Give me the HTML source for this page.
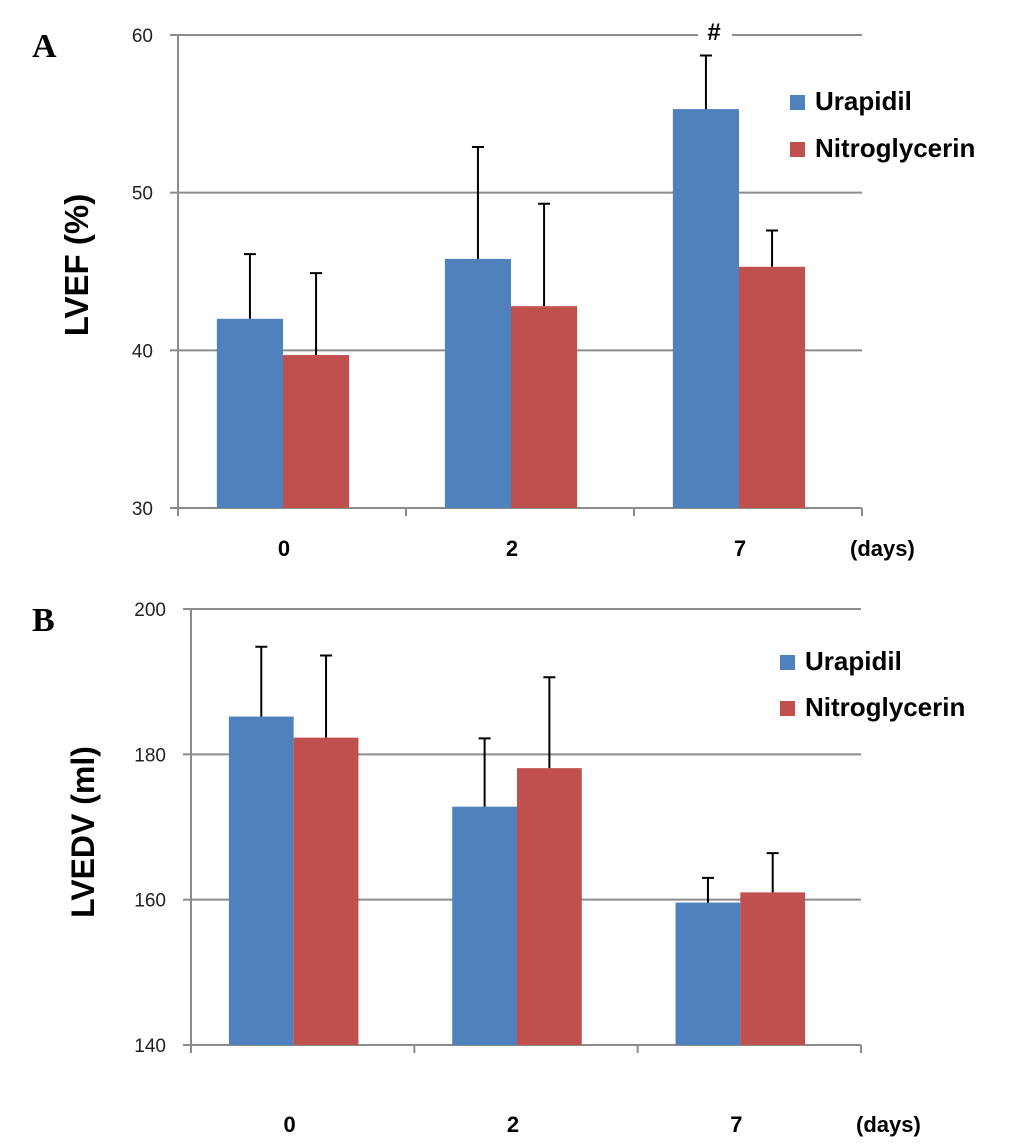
<!DOCTYPE html>
<html><head><meta charset="utf-8"><style>
html,body{margin:0;padding:0;background:#fff;width:1033px;height:1145px;overflow:hidden}
svg text{font-family:"Liberation Sans",Arial,sans-serif}
</style></head><body>
<svg id="chart" width="1033" height="1145" viewBox="0 0 1033 1145" xmlns="http://www.w3.org/2000/svg"></svg>
<script>
const categories = ["0", "2", "7"];
const seriesNames = ["Urapidil", "Nitroglycerin"];
const lvefUrapidil = [42.0, 45.8, 55.3];
const lvefUrapidilErr = [4.1, 7.1, 3.4];
const lvefNitro = [39.7, 42.8, 45.3];
const lvefNitroErr = [5.2, 6.5, 2.3];
const lvefTicks = [30, 40, 50, 60];
const lvedvUrapidil = [185.2, 172.8, 159.6];
const lvedvUrapidilErr = [9.6, 9.4, 3.4];
const lvedvNitro = [182.3, 178.1, 161.0];
const lvedvNitroErr = [11.3, 12.5, 5.4];
const lvedvTicks = [140, 160, 180, 200];

const NS = "http://www.w3.org/2000/svg";
const svg = document.getElementById('chart');
const colors = ["#4f81bd", "#c0504d"];
function mk(tag, attrs, parent, text) {
  const e = document.createElementNS(NS, tag);
  for (const k in attrs) e.setAttribute(k, attrs[k]);
  if (text !== undefined) e.textContent = text;
  (parent || svg).appendChild(e);
  return e;
}

function drawPanel(cfg) {
  const g = mk('g', {});
  
  
  const ymin = cfg.ticks[0], ymax = cfg.ticks[cfg.ticks.length - 1];
  const y = v => cfg.bottom - (v - ymin) / (ymax - ymin) * (cfg.bottom - cfg.top);
  const catW = (cfg.right - cfg.left) / categories.length;
  const x = i => cfg.left + catW * (i + 0.5) + cfg.barDx;
  cfg.ticks.forEach((t, k) => {
    const yy = y(t);
    if (k > 0) {
      if (cfg.gap && k === cfg.ticks.length - 1) {
        const l1 = mk('line', {x1: cfg.left, x2: cfg.gap[0], y1: yy, y2: yy, stroke: '#8c8c8c', 'stroke-width': 2}, g);
        
        
        const l2 = mk('line', {x1: cfg.gap[1], x2: cfg.right, y1: yy, y2: yy, stroke: '#8c8c8c', 'stroke-width': 2}, g);
        
        
      } else {
        const l = mk('line', {x1: cfg.left, x2: cfg.right, y1: yy, y2: yy, stroke: '#8c8c8c', 'stroke-width': 2}, g);
        
        
      }
    }
    const tk = mk('line', {x1: cfg.left - 8, x2: cfg.left, y1: yy, y2: yy, stroke: '#8c8c8c', 'stroke-width': 2}, g);
    
    
    const tl = mk('text', {x: cfg.left - 25, y: yy + 7, 'text-anchor': 'end', 'font-size': 19, fill: '#222'}, g, String(t));
    
    
  });
  const ya = mk('line', {x1: cfg.left, x2: cfg.left, y1: cfg.top, y2: cfg.bottom + 8, stroke: '#8c8c8c', 'stroke-width': 2}, g);
  
  
  const xa = mk('line', {x1: cfg.left, x2: cfg.right, y1: cfg.bottom, y2: cfg.bottom, stroke: '#8c8c8c', 'stroke-width': 2}, g);
  
  
  for (let i = 1; i <= categories.length; i++) {
    const xx = cfg.left + catW * i;
    const t = mk('line', {x1: xx, x2: xx, y1: cfg.bottom, y2: cfg.bottom + 8, stroke: '#8c8c8c', 'stroke-width': 2}, g);
    
    
  }
  const bw = catW * 0.29;
  const series = [[cfg.s1, cfg.e1], [cfg.s2, cfg.e2]];
  series.forEach((s, si) => {
    s[0].forEach((v, i) => {
      const bx = x(i) - bw + si * bw;
      const r = mk('rect', {x: bx, y: y(v), width: bw, height: cfg.bottom - y(v), fill: colors[si]}, g);
      
      
      const cx = bx + bw / 2, top = y(v + s[1][i]);
      const e = mk('path', {d: `M${cx},${y(v)}V${top}M${cx - 6},${top}H${cx + 6}`, stroke: '#000', 'stroke-width': 2, fill: 'none'}, g);
      
      
    });
  });
  categories.forEach((c, i) => {
    const t = mk('text', {x: x(i) + cfg.labelDx, y: cfg.labelY, 'text-anchor': 'middle', 'font-size': 22, 'font-weight': 'bold'}, g, c);
    
    
  });
  const d = mk('text', {x: cfg.daysX, y: cfg.labelY, 'font-size': 22, 'font-weight': 'bold'}, g, '(days)');
  
  
  const yt = mk('text', {x: 0, y: 0, transform: `translate(${cfg.titleX},${cfg.titleY}) rotate(-90)`, 'text-anchor': 'middle', 'font-size': cfg.titleSize, 'font-weight': 'bold'}, g, cfg.title);
  
  
  const pl = mk('text', {x: cfg.letterX, y: cfg.letterY, 'font-size': 34, 'font-weight': 'bold', style: 'font-family:"Liberation Serif",serif'}, g, cfg.letter);
  
  
  seriesNames.forEach((n, si) => {
    const ly = cfg.legY + si * cfg.legStep;
    const lg = mk('g', {}, g);
    
    
    mk('rect', {x: cfg.legX, y: ly, width: 15, height: 15, fill: colors[si]}, lg);
    mk('text', {x: cfg.legX + 25, y: ly + 15, 'font-size': 26, 'font-weight': 'bold'}, lg, n);
  });
  if (cfg.hash) {
    const h = mk('text', {x: cfg.hash[0], y: cfg.hash[1], 'text-anchor': 'middle', 'font-size': 24, 'font-weight': 'bold'}, g, '#');
    
    
  }
}

drawPanel({name: 'lvef-chart', left: 178, right: 862, top: 35, bottom: 508, ticks: lvefTicks,
  s1: lvefUrapidil, e1: lvefUrapidilErr, s2: lvefNitro, e2: lvefNitroErr, barDx: -9,
  labelY: 556, labelDx: 1, daysX: 850, title: 'LVEF (%)', titleSize: 33, titleX: 88, titleY: 265,
  letter: 'A', letterX: 32, letterY: 57, legX: 790, legY: 95, legStep: 47, gap: [698, 732], hash: [714, 40]});
drawPanel({name: 'lvedv-chart', left: 191, right: 861, top: 609, bottom: 1045, ticks: lvedvTicks,
  s1: lvedvUrapidil, e1: lvedvUrapidilErr, s2: lvedvNitro, e2: lvedvNitroErr, barDx: -9,
  labelY: 1132, labelDx: -4, daysX: 856, title: 'LVEDV (ml)', titleSize: 32, titleX: 94, titleY: 832,
  letter: 'B', letterX: 32, letterY: 631, legX: 780, legY: 655, legStep: 46});
</script>
</body></html>
